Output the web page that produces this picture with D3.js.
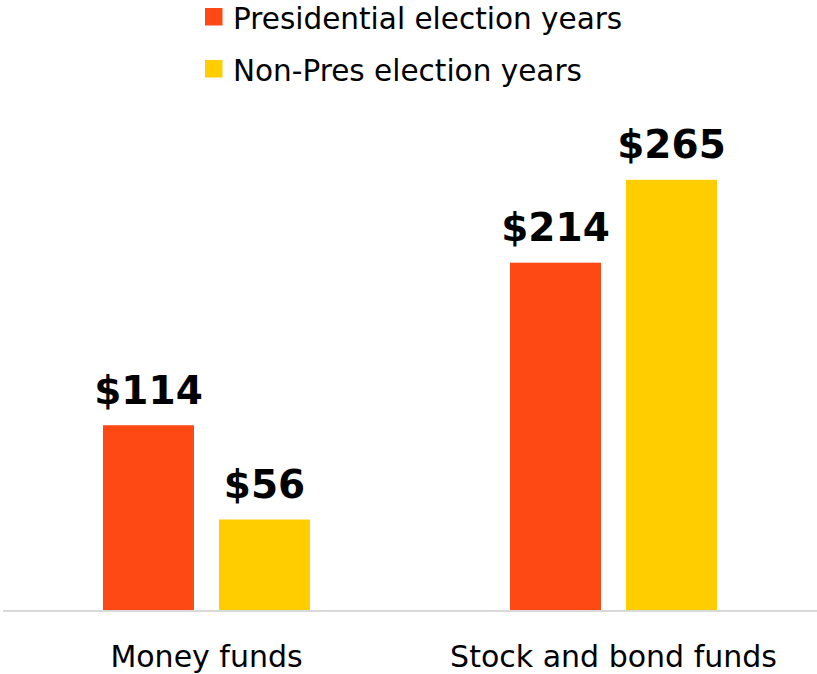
<!DOCTYPE html>
<html><head><meta charset="utf-8">
<script src="https://cdn.jsdelivr.net/npm/d3@7"></script>
<style>html,body{margin:0;padding:0;background:#fff;}</style>
</head><body>
<svg id="chart" width="817" height="674"></svg>
<script>
const categories = ["Money funds", "Stock and bond funds"];
const seriesNames = ["Presidential election years", "Non-Pres election years"];
const presValues = [114, 214];
const nonPresValues = [56, 265];
const colors = ["#ff4914", "#ffcd00"];

const svg = d3.select("#chart");
const baseY = 610.5;
const y = d3.scaleLinear().domain([0, 265]).range([baseY, 179.8]);
const x0 = d3.scaleBand().domain(categories).range([3, 817]).padding(0);
const x1 = d3.scaleBand().domain(seriesNames).range([100, 307]).paddingInner(25/116);

const data = categories.map((c, i) => ({cat: c, vals: [
  {s: seriesNames[0], v: presValues[i], color: colors[0]},
  {s: seriesNames[1], v: nonPresValues[i], color: colors[1]}
]}));

const g = svg.selectAll("g.cat").data(data).join("g")
  .attr("class", "cat")
  .attr("transform", d => `translate(${x0(d.cat)},0)`);

g.selectAll("rect").data(d => d.vals).join("rect")
  .attr("x", d => x1(d.s))
  .attr("width", x1.bandwidth())
  .attr("y", d => y(d.v))
  .attr("height", d => baseY - y(d.v))
  .attr("fill", d => d.color);

g.selectAll("text.val").data(d => d.vals).join("text")
  .attr("class", "val")
  .attr("x", d => x1(d.s) + x1.bandwidth() / 2)
  .attr("y", d => y(d.v) - 21.5)
  .attr("text-anchor", "middle")
  .attr("font-family", "DejaVu Sans")
  .attr("font-weight", "bold")
  .attr("font-size", 39)
  .attr("fill", "#000")
  .text(d => "$" + d.v);

// baseline axis
const xAxis = d3.axisBottom(x0).tickSize(0).tickPadding(0);
const ax = svg.append("g").attr("transform", `translate(0,${baseY + 0.5})`).call(xAxis);
ax.select(".domain").attr("stroke", "#d9d9d9").attr("stroke-width", 2)
  .attr("d", "M3,0H817");
ax.selectAll(".tick text")
  .attr("y", 55.5)
  .attr("dy", 0)
  .attr("font-family", "DejaVu Sans")
  .attr("font-size", 30)
  .attr("fill", "#000");

// legend
const leg = svg.append("g");
const legY = [8, 60];
seriesNames.forEach((s, i) => {
  leg.append("rect").attr("x", 205).attr("y", legY[i]).attr("width", 17.5).attr("height", 17.5).attr("fill", colors[i]);
  leg.append("text").attr("x", 233).attr("y", legY[i] + 20.5)
    .attr("font-family", "DejaVu Sans").attr("font-size", 29.5).attr("fill", "#000").text(s);
});
</script>
</body></html>
